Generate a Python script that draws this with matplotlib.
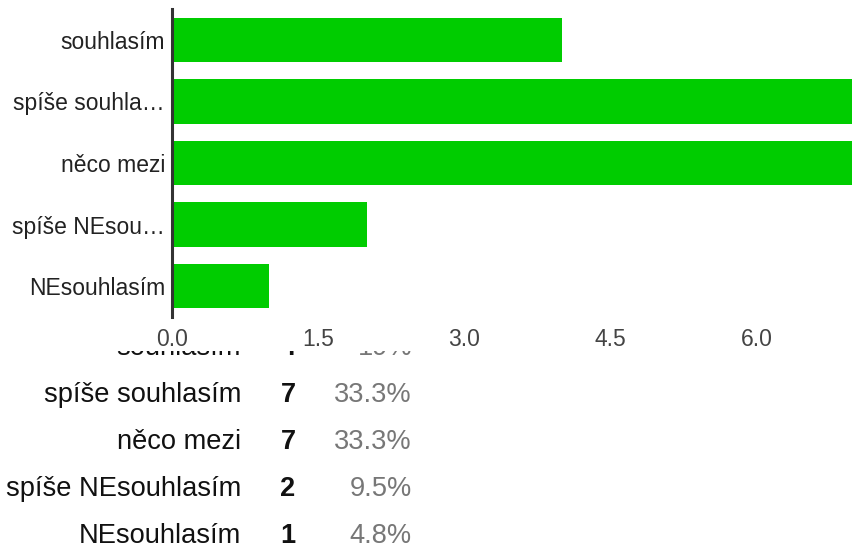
import matplotlib
matplotlib.use('Agg')
import matplotlib.pyplot as plt

plt.rcParams['font.family'] = ['Liberation Sans', 'DejaVu Sans']

# answers and counts

categories = ['souhlasím', 'spíše souhlasím', 'něco mezi', 'spíše NEsouhlasím', 'NEsouhlasím']
short_labels = ['souhlasím', 'spíše souhla…', 'něco mezi', 'spíše NEsou…', 'NEsouhlasím']
counts = [4, 7, 7, 2, 1]
x_ticks = [0.0, 1.5, 3.0, 4.5, 6.0]

total = sum(counts)


def pct_text(n):
    s = f'{100 * n / total:.1f}'
    if s.endswith('.0'):
        s = s[:-2]
    return s + '%'


fig = plt.figure(figsize=(8.52, 5.5), dpi=100)

# bar chart

ax = fig.add_axes([172 / 852, 1 - 317 / 550, 1 - 172 / 852, 308 / 550])
ypos = list(range(len(categories)))
ax.barh(ypos, counts, height=0.72, color='#00cc00')
ax.set_ylim(len(categories) - 0.5, -0.5)
ax.set_xlim(0, 6.98)
ax.set_yticks(ypos)
ax.set_yticklabels(short_labels, fontsize=16.5, color='#222222')
ax.set_xticks(x_ticks)
ax.set_xticklabels([f'{t:.1f}' for t in x_ticks], fontsize=16.5, color='#444444')
ax.tick_params(axis='both', length=0)
ax.tick_params(axis='y', pad=5)
ax.tick_params(axis='x', pad=8)
for side in ['top', 'right', 'bottom']:
    ax.spines[side].set_visible(False)
ax.spines['left'].set_color('#333333')
ax.spines['left'].set_linewidth(2.2)

# summary table below, top row cut off under the axis labels

tab = fig.add_axes([0, 0, 1, 199 / 550])
tab.set_xlim(0, 852)
tab.set_ylim(550, 351)
tab.axis('off')
for i, (cat, n) in enumerate(zip(categories, counts)):
    y = 348 + 47 * i
    tab.text(241, y, cat, ha='right', va='center', fontsize=19.6,
             color='#111111', clip_on=True)
    tab.text(288, y, str(n), ha='center', va='center', fontsize=19.6,
             fontweight='bold', color='#111111', clip_on=True)
    tab.text(412, y, pct_text(n), ha='right', va='center', fontsize=19.6,
             color='#777777', clip_on=True)

plt.savefig('out.png', dpi=100)
